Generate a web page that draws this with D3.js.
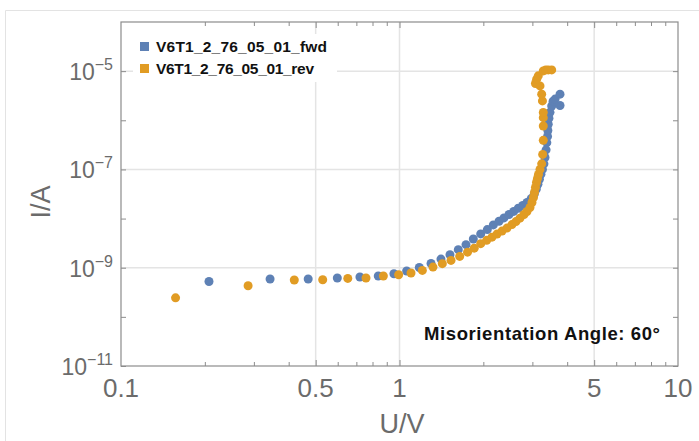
<!DOCTYPE html>
<html>
<head>
<meta charset="utf-8">
<script src="https://cdn.jsdelivr.net/npm/d3@7"></script>
<style>
  body { margin: 0; background: #fff; }
  svg { display: block; font-family: "Liberation Sans", Arial, sans-serif; }
</style>
</head>
<body>
<svg width="699" height="441"></svg>
<script>
// series names
var seriesNames = ["V6T1_2_76_05_01_fwd", "V6T1_2_76_05_01_rev"];

// forward sweep, U in V and I in A
var fwdU = [0.207, 0.343, 0.470, 0.598, 0.721, 0.839, 0.955,
  1.061, 1.178, 1.298, 1.409, 1.518, 1.626, 1.733, 1.841,
  1.957, 2.067, 2.172, 2.277, 2.372, 2.473,
  2.57, 2.67, 2.77, 2.87, 2.97,
  3.05, 3.10, 3.14, 3.18, 3.22, 3.26, 3.30, 3.33,
  3.36, 3.38, 3.40, 3.41, 3.42, 3.44, 3.47, 3.52, 3.56, 3.62, 3.77, 3.77];
var fwdI = [5.25e-10, 5.88e-10, 5.88e-10, 6.16e-10, 6.46e-10, 6.77e-10, 7.54e-10,
  8.57e-10, 1.01e-9, 1.22e-9, 1.50e-9, 1.84e-9, 2.33e-9, 2.95e-9, 3.85e-9,
  4.87e-9, 5.97e-9, 7.43e-9, 8.81e-9, 1.03e-8, 1.21e-8,
  1.40e-8, 1.62e-8, 1.85e-8, 2.12e-8, 2.55e-8,
  3.2e-8, 4.0e-8, 5.0e-8, 6.3e-8, 8.0e-8, 1.0e-7, 1.3e-7, 1.75e-7,
  2.5e-7, 3.5e-7, 4.7e-7, 6.2e-7, 8.3e-7, 1.1e-6, 1.45e-6, 1.95e-6, 2.45e-6, 2.7e-6, 3.4e-6, 2.0e-6];

// reverse sweep
var revU = [0.157, 0.286, 0.419, 0.530, 0.652, 0.758, 0.875, 0.993,
  1.100, 1.208, 1.319, 1.425, 1.531, 1.645, 1.755, 1.855, 1.957,
  2.056, 2.148, 2.239, 2.334, 2.432, 2.534, 2.619, 2.707, 2.799, 2.869, 2.941,
  2.990, 3.027, 3.052, 3.077, 3.103, 3.129, 3.155, 3.195, 3.24, 3.267,
  3.283, 3.283, 3.283, 3.283, 3.26, 3.24, 3.195, 3.077, 3.108, 3.15, 3.283, 3.35, 3.422, 3.52];
var revI = [2.44e-10, 4.30e-10, 5.61e-10, 5.69e-10, 6.05e-10, 6.16e-10, 6.77e-10, 7.19e-10,
  7.79e-10, 8.81e-10, 1.03e-9, 1.21e-9, 1.41e-9, 1.70e-9, 2.07e-9, 2.50e-9, 3.09e-9,
  3.61e-9, 4.19e-9, 4.83e-9, 5.56e-9, 6.40e-9, 7.55e-9, 8.69e-9, 1.02e-8, 1.21e-8, 1.39e-8, 1.68e-8,
  2.12e-8, 2.68e-8, 3.40e-8, 4.29e-8, 5.43e-8, 6.55e-8, 7.91e-8, 1.0e-7, 1.3e-7, 2.02e-7,
  3.91e-7, 7.65e-7, 1.13e-6, 1.44e-6, 2.48e-6, 3.40e-6, 5.01e-6, 5.6e-6, 6.87e-6, 8.02e-6, 1.01e-5, 1.06e-5, 1.06e-5, 1.06e-5];

var xTickLabels = [0.1, 0.5, 1, 5, 10];
var xMinorTicks = [0.2, 0.3, 0.4, 0.6, 0.7, 0.8, 0.9, 2, 3, 4, 6, 7, 8, 9];
var yTickExps = [-11, -9, -7, -5];
var yMinorExps = [-10, -8, -6];

var colors = ["#5e81b5", "#e19c24"];

var svg = d3.select("svg");

// outer light frame
svg.append("path")
  .attr("d", "M5.5,441V10.5H699")
  .attr("fill", "none")
  .attr("stroke", "#e3e3e3");

var x = d3.scaleLog().domain([0.1, 10]).range([121, 678]);
var y = d3.scaleLog().domain([1e-11, 1e-4]).range([366, 22]);

// grid
var grid = svg.append("g").attr("stroke", "#e4e4e4").attr("stroke-width", 1.5);
grid.selectAll(".gx").data([0.5, 1, 5]).enter().append("line")
  .attr("x1", function(d) { return x(d); }).attr("x2", function(d) { return x(d); })
  .attr("y1", y.range()[0]).attr("y2", y.range()[1]);
grid.selectAll(".gy").data([1e-9, 1e-7, 1e-5]).enter().append("line")
  .attr("y1", function(d) { return y(d); }).attr("y2", function(d) { return y(d); })
  .attr("x1", x.range()[0]).attr("x2", x.range()[1]);

// ticks (inward)
function tickGroup(axis, tf) {
  var g = svg.append("g").attr("transform", tf).call(axis);
  g.select(".domain").remove();
  g.selectAll("line").attr("stroke", "#8c8c8c");
  g.selectAll("text").remove();
  return g;
}
var majorX = [0.5, 1, 5];
tickGroup(d3.axisBottom(x).tickValues(majorX).tickSize(-6), "translate(0,366)");
tickGroup(d3.axisBottom(x).tickValues(xMinorTicks).tickSize(-4), "translate(0,366)");
tickGroup(d3.axisTop(x).tickValues(majorX).tickSize(-6), "translate(0,22)");
tickGroup(d3.axisTop(x).tickValues(xMinorTicks).tickSize(-4), "translate(0,22)");
var yAll = yTickExps.concat(yMinorExps).map(function(e) { return Math.pow(10, e); });
tickGroup(d3.axisLeft(y).tickValues(yAll).tickSize(-5), "translate(121,0)");
tickGroup(d3.axisRight(y).tickValues(yAll).tickSize(-5), "translate(678,0)");

// frame
svg.append("rect")
  .attr("x", 121).attr("y", 22)
  .attr("width", 678 - 121).attr("height", 366 - 22)
  .attr("fill", "none").attr("stroke", "#8c8c8c").attr("stroke-width", 1.2);

// legend background
svg.append("rect").attr("x", 133).attr("y", 34).attr("width", 204).attr("height", 48).attr("fill", "#fff");

// points
var fwd = fwdU.map(function(u, i) { return { u: u, i: fwdI[i] }; });
var rev = revU.map(function(u, i) { return { u: u, i: revI[i] }; });
[fwd, rev].forEach(function(data, k) {
  svg.append("g").selectAll("circle").data(data).enter().append("circle")
    .attr("cx", function(d) { return x(d.u); })
    .attr("cy", function(d) { return y(d.i); })
    .attr("r", 4.5)
    .attr("fill", colors[k]);
});

// tick labels
svg.selectAll(".xl").data(xTickLabels).enter().append("text")
  .attr("x", function(d) { return x(d); })
  .attr("y", 397)
  .attr("text-anchor", "middle")
  .attr("font-size", 26)
  .attr("fill", "#6b6b6b")
  .text(function(d) { return d; });

var yl = svg.selectAll(".yl").data(yTickExps).enter().append("text")
  .attr("x", 113)
  .attr("y", function(d) { return y(Math.pow(10, d)) + 9; })
  .attr("text-anchor", "end")
  .attr("font-size", 23)
  .attr("fill", "#6b6b6b");
yl.append("tspan").text("10");
yl.append("tspan").attr("dy", -10).attr("font-size", 16)
  .text(function(d) { return "\u2212" + Math.abs(d); });

// axis titles
svg.append("text").attr("x", 402).attr("y", 433).attr("text-anchor", "middle")
  .attr("font-size", 27).attr("fill", "#6b6b6b").text("U/V");
svg.append("text").attr("transform", "translate(50,202) rotate(-90)").attr("text-anchor", "middle")
  .attr("font-size", 27).attr("fill", "#6b6b6b").text("I/A");

// legend
var leg = svg.selectAll(".leg").data(seriesNames).enter().append("g")
  .attr("transform", function(d, i) { return "translate(140," + (42 + i * 22) + ")"; });
leg.append("rect").attr("width", 9).attr("height", 9)
  .attr("fill", function(d, i) { return colors[i]; });
leg.append("text").attr("x", 16).attr("y", 10)
  .attr("font-size", 15.5).attr("font-weight", "bold").attr("fill", "#111")
  .attr("textLength", function(d, i) { return i ? 158 : 171; })
  .attr("lengthAdjust", "spacing")
  .text(function(d) { return d; });

// annotation
svg.append("text").attr("x", 424).attr("y", 340)
  .attr("font-size", 18.5).attr("font-weight", "bold").attr("fill", "#111")
  .attr("textLength", 236).attr("lengthAdjust", "spacing")
  .text("Misorientation Angle: 60\u00b0");
</script>
</body>
</html>
